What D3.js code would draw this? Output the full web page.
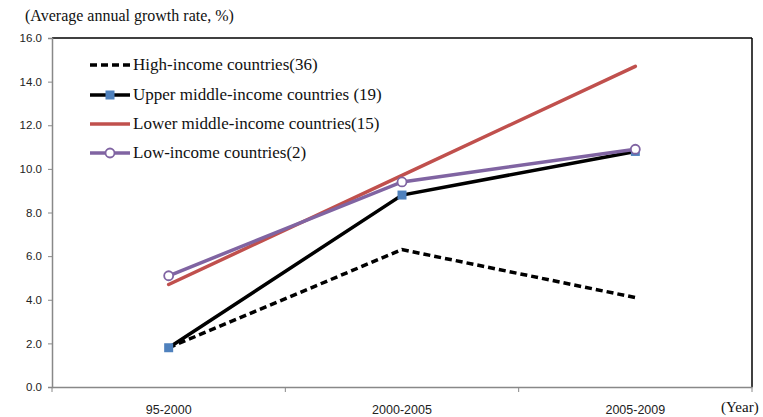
<!DOCTYPE html>
<html>
<head>
<meta charset="utf-8">
<script src="https://cdn.jsdelivr.net/npm/d3@7/dist/d3.min.js"></script>
<style>
  html, body { margin: 0; padding: 0; background: #fff; }
  svg { display: block; }
</style>
</head>
<body>
<svg id="chart" width="763" height="417"></svg>
<script>
const periods = ["95-2000", "2000-2005", "2005-2009"];
const highIncome = [1.8, 6.3, 4.1];
const upperMiddle = [1.8, 8.8, 10.8];
const lowerMiddle = [4.7, 9.7, 14.7];
const lowIncome = [5.1, 9.4, 10.9];
const yTicks = [0, 2, 4, 6, 8, 10, 12, 14, 16];

const series = [
  { name: "High-income countries(36)", values: highIncome, color: "#000", dash: "7,4", marker: null },
  { name: "Upper middle-income countries (19)", values: upperMiddle, color: "#000", dash: null, marker: "square" },
  { name: "Lower middle-income countries(15)", values: lowerMiddle, color: "#C0504D", dash: null, marker: null },
  { name: "Low-income countries(2)", values: lowIncome, color: "#8064A2", dash: null, marker: "circle" }
];

const svg = d3.select("#chart");
const plotLeft = 52, plotRight = 752, plotTop = 38, plotBottom = 387;

const x = d3.scaleBand().domain(periods).range([plotLeft, plotRight]);
const y = d3.scaleLinear().domain([0, 16]).range([plotBottom, plotTop]);
const cx = d => x(d) + x.bandwidth() / 2;

// Frame: black top and right edges
svg.append("line").attr("x1", plotLeft).attr("x2", plotRight).attr("y1", plotTop).attr("y2", plotTop)
  .attr("stroke", "#000").attr("stroke-width", 1.5);
svg.append("line").attr("x1", plotRight).attr("x2", plotRight).attr("y1", plotTop).attr("y2", plotBottom)
  .attr("stroke", "#000").attr("stroke-width", 1.5);

// Y axis
const yAxis = svg.append("g").attr("transform", `translate(${plotLeft},0)`)
  .call(d3.axisLeft(y).tickValues(yTicks).tickFormat(d3.format(".1f")).tickSize(4).tickPadding(6));
yAxis.select(".domain").attr("stroke", "#888").attr("stroke-width", 1.5);
yAxis.selectAll(".tick line").attr("stroke", "#888");
yAxis.selectAll("text").attr("font-family", "Liberation Sans, Arial, sans-serif")
  .attr("font-size", 11.5).attr("fill", "#222");

// X axis
const xAxis = svg.append("g").attr("transform", `translate(0,${plotBottom})`)
  .call(d3.axisBottom(x).tickSize(0).tickPadding(18));
xAxis.select(".domain").attr("stroke", "#888").attr("stroke-width", 1.5);
xAxis.selectAll("text").attr("font-family", "Liberation Sans, Arial, sans-serif")
  .attr("font-size", 12.5).attr("fill", "#222");
// Category boundary ticks
const bounds = [plotLeft].concat(periods.map(p => x(p) + x.bandwidth()));
svg.append("g").selectAll("line").data(bounds).join("line")
  .attr("x1", d => d).attr("x2", d => d).attr("y1", plotBottom).attr("y2", plotBottom + 5)
  .attr("stroke", "#888").attr("stroke-width", 1);

// Lines
const line = d3.line().x((d, i) => cx(periods[i])).y(d => y(d));
series.forEach(s => {
  svg.append("path").datum(s.values)
    .attr("d", line).attr("fill", "none")
    .attr("stroke", s.color).attr("stroke-width", 3.5)
    .attr("stroke-dasharray", s.dash)
    .attr("stroke-linecap", s.dash ? "butt" : "round");
});

// Markers
function drawMarker(g, s, px, py) {
  if (s.marker === "square") {
    g.append("rect").attr("x", px - 4.5).attr("y", py - 4.5).attr("width", 9).attr("height", 9)
      .attr("fill", "#4F81BD");
  } else if (s.marker === "circle") {
    g.append("circle").attr("cx", px).attr("cy", py).attr("r", 4.5)
      .attr("fill", "#fff").attr("stroke", "#8064A2").attr("stroke-width", 1.8);
  }
}
const markerLayer = svg.append("g");
series.forEach(s => {
  s.values.forEach((v, i) => drawMarker(markerLayer, s, cx(periods[i]), y(v)));
});

// Legend
const legend = svg.append("g");
const legendY = [65, 95, 124, 153];
series.forEach((s, i) => {
  const ly = legendY[i];
  legend.append("line").attr("x1", 90).attr("x2", 130).attr("y1", ly).attr("y2", ly)
    .attr("stroke", s.color).attr("stroke-width", 3.5)
    .attr("stroke-dasharray", s.dash ? "7,4" : null);
  drawMarker(legend, s, 110, ly);
  legend.append("text").attr("x", 133).attr("y", ly + 5)
    .attr("font-family", "Liberation Serif, Times New Roman, serif")
    .attr("font-size", 17).attr("fill", "#111").text(s.name);
});

// Axis captions
svg.append("text").attr("x", 25).attr("y", 21)
  .attr("font-family", "Liberation Serif, Times New Roman, serif")
  .attr("font-size", 16).attr("fill", "#111").text("(Average annual growth rate, %)");
svg.append("text").attr("x", 721).attr("y", 412)
  .attr("font-family", "Liberation Serif, Times New Roman, serif")
  .attr("font-size", 15).attr("fill", "#111").text("(Year)");
</script>
</body>
</html>
